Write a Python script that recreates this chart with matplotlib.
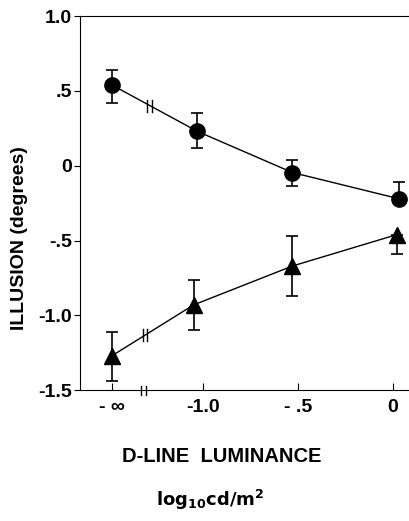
import numpy as np
import matplotlib.pyplot as plt

plt.rcParams['font.family'] = ['Liberation Sans', 'DejaVu Sans']
plt.rcParams['font.weight'] = 'bold'

# luminance (log10 cd/m2); -inf plotted at a stand-in position
x_circ = [-1.48, -1.03, -0.53, 0.03]
y_circ = [0.54, 0.23, -0.045, -0.22]
err_circ_lo = [0.12, 0.11, 0.09, 0.0]
err_circ_hi = [0.10, 0.12, 0.085, 0.11]

x_tri = [-1.48, -1.05, -0.53, 0.02]
y_tri = [-1.27, -0.93, -0.67, -0.46]
err_tri_lo = [0.17, 0.17, 0.20, 0.13]
err_tri_hi = [0.16, 0.17, 0.20, 0.0]

xtick_pos = [-1.48, -1.0, -0.5, 0.0]
xtick_lab = ['- \u221e', '-1.0', '- .5', '0']
ytick_pos = [1.0, 0.5, 0.0, -0.5, -1.0, -1.5]
ytick_lab = ['1.0', '.5', '0', '-.5', '-1.0', '-1.5']

fig = plt.figure(figsize=(4.09, 5.21), dpi=100)
ax = fig.add_axes([0.196, 0.251, 0.804, 0.718])

ax.errorbar(x_circ, y_circ, yerr=[err_circ_lo, err_circ_hi], fmt='-o', color='black',
            lw=1.0, ms=11, capsize=4, elinewidth=1.2, capthick=1.2)
ax.errorbar(x_tri, y_tri, yerr=[err_tri_lo, err_tri_hi], fmt='-^', color='black',
            lw=1.0, ms=11, capsize=4, elinewidth=1.2, capthick=1.2)

# break marks on the lines and the x axis
def brk(xs, yline, h):
    for xb in xs:
        ax.plot([xb, xb], [yline - h, yline + h], color='black', lw=1.0, clip_on=False)

brk([-1.295, -1.268], float(np.interp(-1.28, x_circ, y_circ)), 0.04)
brk([-1.316, -1.295], float(np.interp(-1.305, x_tri, y_tri)), 0.04)
brk([-1.325, -1.30], -1.5, 0.03)

ax.set_xlim(-1.647, 0.084)
ax.set_ylim(-1.5, 1.0)
ax.spines['right'].set_visible(False)
ax.set_xticks(xtick_pos)
ax.set_xticklabels(xtick_lab, fontsize=14, fontweight='bold')
ax.set_yticks(ytick_pos)
ax.set_yticklabels(ytick_lab, fontsize=14, fontweight='bold')
ax.tick_params(axis='x', direction='in', length=5, pad=6)
ax.tick_params(axis='y', direction='out', length=4, pad=2)

fig.text(0.047, 0.543, 'ILLUSION (degrees)', rotation=90, ha='center', va='center',
         fontsize=14, fontweight='bold')
fig.text(0.543, 0.123, 'D-LINE  LUMINANCE', ha='center', va='center',
         fontsize=14.5, fontweight='bold')
fig.text(0.513, 0.04, r'$\mathbf{log_{10}cd/m^2}$', ha='center', va='center', fontsize=13)

fig.savefig('out.png', dpi=100)
